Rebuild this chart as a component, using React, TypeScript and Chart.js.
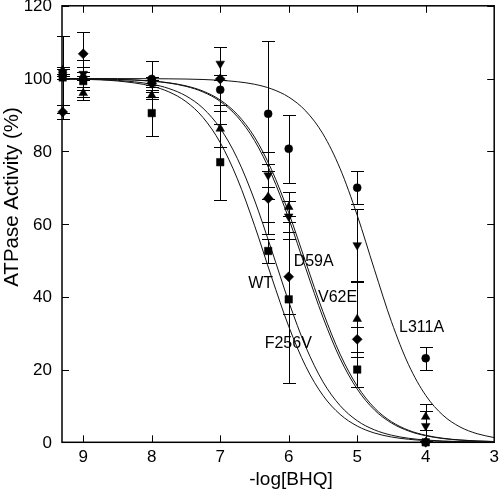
import React, { useEffect, useRef } from "react";
import { Chart, registerables } from "chart.js";

Chart.register(...registerables);

// -log[BHQ] doses at which activity was measured
const doses = [9.3, 9, 8, 7, 6.3, 6, 5, 4];

// Measured ATPase activity (%) and error (±) per mutant
const wtActivity = [100.3, 99.3, 90.5, 77.0, 52.6, 39.3, 20.0, 0];
const wtError = [0.5, 2.5, 6.4, 10.5, 3.3, 23.0, 4.9, 0];
const f256vActivity = [90.8, 106.8, 98.7, 99.9, 67.0, 45.5, 28.3, 0];
const f256vError = [2.0, 6.0, 1.0, 8.8, 9.6, 10.3, 3.5, 0];
const d59aActivity = [102.3, 96.0, 95.4, 86.2, 67.5, 64.7, 33.9, 7.0];
const d59aError = [1.0, 1.8, 1.0, 5.0, 7.0, 4.1, 10.5, 3.5];
const v62eActivity = [101.6, 101.3, 99.3, 104.1, 73.4, 62.1, 54.2, 4.5];
const v62eError = [1.0, 1.8, 1.0, 4.6, 6.4, 4.3, 10.0, 4.2];
const l311aActivity = [101.0, 100.0, 99.9, 96.9, 90.3, 80.7, 70.0, 23.1];
const l311aError = [10.6, 5.1, 5.0, 4.1, 20.0, 9.3, 4.6, 3.2];

// Fitted curves
const curveX = [9.3, 9, 8.5, 8, 7.75, 7.5, 7.25, 7, 6.75, 6.5, 6.25, 6, 5.75, 5.5, 5.25, 5, 4.75, 4.5, 4.25, 4, 3.75, 3.5, 3.25, 3];
const wtCurve = [99.89, 99.79, 99.33, 97.91, 96.34, 93.67, 89.27, 82.39, 72.45, 59.66, 45.41, 31.87, 20.82, 12.88, 7.68, 4.47, 2.56, 1.46, 0.83, 0.47, 0.26, 0.15, 0.08, 0.05];
const f256vCurve = [99.92, 99.84, 99.5, 98.44, 97.26, 95.23, 91.82, 86.32, 78.02, 66.61, 52.88, 38.69, 26.19, 16.63, 10.09, 5.93, 3.43, 1.96, 1.11, 0.63, 0.35, 0.2, 0.11, 0.06];
const d59aCurve = [99.96, 99.92, 99.77, 99.29, 98.76, 97.85, 96.3, 93.72, 89.51, 82.99, 73.63, 61.53, 47.76, 34.36, 23.03, 14.63, 8.92, 5.31, 3.11, 1.8, 1.04, 0.6, 0.34, 0.2];
const v62eCurve = [99.96, 99.93, 99.78, 99.33, 98.84, 97.99, 96.54, 94.1, 90.12, 83.94, 74.91, 63.1, 49.44, 35.88, 24.24, 15.48, 9.48, 5.66, 3.31, 1.93, 1.11, 0.64, 0.37, 0.21];
const l311aCurve = [100.0, 100.0, 99.99, 99.96, 99.92, 99.86, 99.74, 99.52, 99.13, 98.43, 97.15, 94.91, 91.06, 84.78, 75.25, 62.42, 47.57, 33.16, 21.32, 12.9, 7.48, 4.23, 2.36, 1.3];

// Axis ticks
const xTicks = [9, 8, 7, 6, 5, 4, 3];
const yTicks = [0, 20, 40, 60, 80, 100, 120];
const xTitle = "-log[BHQ]";
const yTitle = "ATPase Activity (%)";

// Curve labels: [text, x (-log), y (%)]
const curveLabels: [string, number, number][] = [
  ["WT", 6.41, 43.7],
  ["D59A", 5.636, 49.6],
  ["V62E", 5.286, 39.7],
  ["F256V", 6.007, 27.0],
  ["L311A", 4.06, 31.4],
];

const FONT = '"Liberation Sans", Arial, Helvetica, sans-serif';

const axesPlugin = {
  id: "axesFrame",
  beforeDatasetsDraw(chart: any) {
    const { ctx, chartArea: a, scales } = chart;
    const x = scales.x, y = scales.y;
    ctx.save();
    // error bars
    ctx.strokeStyle = "#000";
    ctx.lineWidth = 1;
    chart.data.datasets.forEach((ds: any) => {
      const errs = ds.errors;
      if (!errs) return;
      ds.data.forEach((p: any, i: number) => {
        const e = errs[i];
        if (!e) return;
        const px = Math.round(x.getPixelForValue(p.x)) + 0.5;
        const top = Math.round(y.getPixelForValue(p.y + e)) + 0.5;
        const bot = Math.round(y.getPixelForValue(p.y - e)) + 0.5;
        ctx.beginPath();
        ctx.moveTo(px, top);
        ctx.lineTo(px, bot);
        ctx.moveTo(px - 6.5, top);
        ctx.lineTo(px + 6.5, top);
        ctx.moveTo(px - 6.5, bot);
        ctx.lineTo(px + 6.5, bot);
        ctx.stroke();
      });
    });
    // frame
    ctx.lineWidth = 1.5;
    ctx.strokeRect(a.left, a.top, a.right - a.left, a.bottom - a.top);
    // ticks
    ctx.lineWidth = 1;
    const tl = 7;
    ctx.beginPath();
    xTicks.forEach((v) => {
      const px = Math.round(x.getPixelForValue(v)) + 0.5;
      if (px > a.right - 2) return;
      ctx.moveTo(px, a.bottom);
      ctx.lineTo(px, a.bottom - tl);
      ctx.moveTo(px, a.top);
      ctx.lineTo(px, a.top + tl);
    });
    yTicks.forEach((v) => {
      const py = Math.round(y.getPixelForValue(v)) + 0.5;
      ctx.moveTo(a.left, py);
      ctx.lineTo(a.left + tl, py);
      ctx.moveTo(a.right, py);
      ctx.lineTo(a.right - tl, py);
    });
    ctx.stroke();
    ctx.restore();
  },
  afterDraw(chart: any) {
    const { ctx, chartArea: a, scales } = chart;
    const x = scales.x, y = scales.y;
    ctx.save();
    ctx.fillStyle = "#000";
    ctx.font = `17px ${FONT}`;
    ctx.textAlign = "center";
    ctx.textBaseline = "middle";
    xTicks.forEach((v) => {
      let px = x.getPixelForValue(v);
      if (px > 496) px = 496;
      ctx.fillText(String(v), px, a.bottom + 15);
    });
    ctx.textAlign = "right";
    yTicks.forEach((v) => {
      ctx.fillText(String(v), a.left - 10, y.getPixelForValue(v) + 1);
    });
    ctx.font = `19px ${FONT}`;
    ctx.textAlign = "center";
    ctx.fillText(xTitle, 291, 480);
    ctx.save();
    ctx.font = `20.5px ${FONT}`;
    ctx.translate(12, 197);
    ctx.rotate(-Math.PI / 2);
    ctx.fillText(yTitle, 0, 0);
    ctx.restore();
    ctx.font = `16px ${FONT}`;
    curveLabels.forEach(([t, lx, ly]) => {
      ctx.fillText(t, x.getPixelForValue(lx), y.getPixelForValue(ly));
    });
    ctx.restore();
  },
};

export default function App() {
  const ref = useRef<HTMLCanvasElement | null>(null);
  useEffect(() => {
    const canvas = ref.current;
    if (!canvas) return;
    const pts = (xs: number[], ys: number[]) => xs.map((v, i) => ({ x: v, y: ys[i] }));
    const markerSeries = [
      { name: "WT", values: wtActivity, errors: wtError, style: "rect", radius: 5.3, rotation: 0 },
      { name: "F256V", values: f256vActivity, errors: f256vError, style: "rectRot", radius: 5, rotation: 0 },
      { name: "D59A", values: d59aActivity, errors: d59aError, style: "triangle", radius: 5, rotation: 0 },
      { name: "V62E", values: v62eActivity, errors: v62eError, style: "triangle", radius: 5, rotation: 180 },
      { name: "L311A", values: l311aActivity, errors: l311aError, style: "circle", radius: 4, rotation: 0 },
    ];
    const curveSeries = [
      { name: "WT fit", values: wtCurve },
      { name: "F256V fit", values: f256vCurve },
      { name: "D59A fit", values: d59aCurve },
      { name: "V62E fit", values: v62eCurve },
      { name: "L311A fit", values: l311aCurve },
    ];
    const datasets: any[] = [
      ...markerSeries.map((s) => ({
        label: s.name,
        data: pts(doses, s.values),
        errors: s.errors,
        showLine: false,
        pointStyle: s.style,
        pointRadius: s.radius,
        pointRotation: s.rotation,
        pointBackgroundColor: "#000",
        pointBorderColor: "#000",
        pointBorderWidth: 0.5,
        borderColor: "#000",
        backgroundColor: "#000",
        clip: false,
        order: 0,
      })),
      ...curveSeries.map((s) => ({
        label: s.name,
        data: pts(curveX, s.values),
        showLine: true,
        pointRadius: 0,
        borderColor: "#111",
        borderWidth: 1,
        cubicInterpolationMode: "monotone",
        fill: false,
        order: 1,
      })),
    ];
    const chart = new Chart(canvas, {
      type: "line",
      data: { datasets },
      options: {
        responsive: false,
        animation: false,
        devicePixelRatio: 1,
        events: [],
        layout: { padding: { left: 62, top: 5, right: 0.5, bottom: 47.7 } },
        plugins: { legend: { display: false }, tooltip: { enabled: false } },
        scales: {
          x: { type: "linear", reverse: true, min: 3, max: 9.31, display: false },
          y: { type: "linear", min: 0, max: 120, display: false },
        },
      } as any,
      plugins: [axesPlugin],
    });
    return () => chart.destroy();
  }, []);
  return (
    <div style={{ position: "fixed", left: 0, top: 0, width: 500, height: 490, background: "#fff" }}>
      <canvas ref={ref} width={500} height={490} style={{ display: "block", width: 500, height: 490 }} />
    </div>
  );
}
